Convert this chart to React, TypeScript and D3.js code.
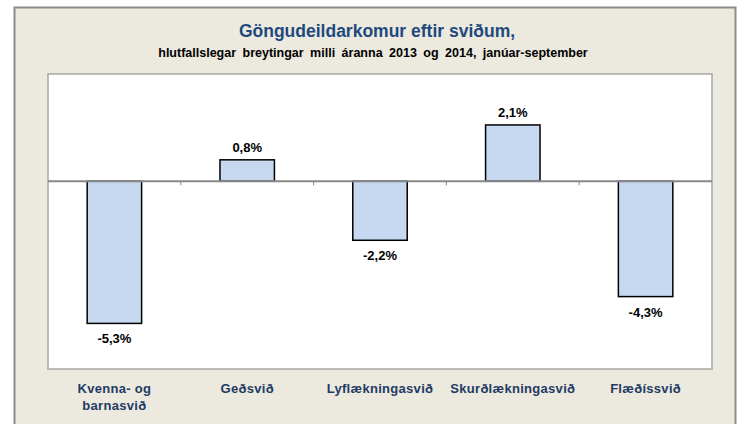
import { useEffect, useRef } from "react";
import * as d3 from "d3";

const categories = [["Kvenna- og", "barnasvið"], ["Geðsvið"], ["Lyflækningasvið"], ["Skurðlækningasvið"], ["Flæðíssvið"]];
const values = [-5.3, 0.8, -2.2, 2.1, -4.3];
const valueLabels = ["-5,3%", "0,8%", "-2,2%", "2,1%", "-4,3%"];

export default function App() {
  const svgRef = useRef<SVGSVGElement>(null);

  useEffect(() => {
    const svg = d3.select(svgRef.current);
    svg.selectAll("*").remove();

    const width = 741;
    const height = 424;
    const plot = { left: 48, right: 712, top: 74, bottom: 369 };
    const font = "'Liberation Sans', Arial, sans-serif";

    // outer frame
    svg.append("rect")
      .attr("x", 14.5).attr("y", 7.5)
      .attr("width", 721).attr("height", height)
      .attr("fill", "#ECE9DF")
      .attr("stroke", "#8C8C8C").attr("stroke-width", 2);

    // plot area
    svg.append("rect")
      .attr("x", plot.left).attr("y", plot.top)
      .attr("width", plot.right - plot.left).attr("height", plot.bottom - plot.top)
      .attr("fill", "#fff")
      .attr("stroke", "#A6A6A6").attr("stroke-width", 1.5);

    const x = d3.scaleBand<number>()
      .domain(d3.range(values.length))
      .range([plot.left, plot.right])
      .paddingInner(0.59)
      .paddingOuter(0.295);

    const xb = d3.scaleBand<number>()
      .domain(d3.range(values.length))
      .range([plot.left, plot.right]);

    const y = d3.scaleLinear().domain([-7, 4]).range([plot.bottom, plot.top]);

    // bars
    svg.append("g")
      .selectAll("rect")
      .data(values)
      .enter()
      .append("rect")
      .attr("x", (_, i) => x(i)!)
      .attr("width", x.bandwidth())
      .attr("y", d => y(Math.max(0, d)))
      .attr("height", d => Math.abs(y(d) - y(0)))
      .attr("fill", "#C6D9F1")
      .attr("stroke", "#000")
      .attr("stroke-width", 1.5);

    // zero axis
    svg.append("line")
      .attr("x1", plot.left).attr("x2", plot.right)
      .attr("y1", y(0)).attr("y2", y(0))
      .attr("stroke", "#878787").attr("stroke-width", 2);

    svg.append("g")
      .selectAll("line")
      .data(d3.range(1, values.length))
      .enter()
      .append("line")
      .attr("x1", i => xb(i)!).attr("x2", i => xb(i)!)
      .attr("y1", y(0)).attr("y2", y(0) + 4)
      .attr("stroke", "#878787").attr("stroke-width", 1);

    // value labels
    svg.append("g")
      .selectAll("text")
      .data(values)
      .enter()
      .append("text")
      .attr("x", (_, i) => x(i)! + x.bandwidth() / 2)
      .attr("y", d => (d >= 0 ? y(d) - 8 : y(d) + 20))
      .attr("text-anchor", "middle")
      .attr("font-family", font)
      .attr("font-weight", "bold")
      .attr("font-size", 13)
      .attr("fill", "#000")
      .text((_, i) => valueLabels[i]);

    // category labels
    const cat = svg.append("g")
      .selectAll("text")
      .data(categories)
      .enter()
      .append("text")
      .attr("x", (_, i) => xb(i)! + xb.bandwidth() / 2)
      .attr("y", 393)
      .attr("text-anchor", "middle")
      .attr("font-family", font)
      .attr("font-weight", "bold")
      .attr("font-size", 13)
      .attr("letter-spacing", 0.3)
      .attr("fill", "#1F3B64");
    cat.selectAll("tspan")
      .data(d => d)
      .enter()
      .append("tspan")
      .attr("x", function () {
        return (this as SVGTSpanElement).parentElement!.getAttribute("x");
      })
      .attr("dy", (_, j) => (j === 0 ? 0 : 17))
      .text(d => d);

    // titles
    svg.append("text")
      .attr("x", 377).attr("y", 37)
      .attr("text-anchor", "middle")
      .attr("font-family", font)
      .attr("font-weight", "bold")
      .attr("font-size", 17.5)
      .attr("fill", "#1F497D")
      .text("Göngudeildarkomur eftir sviðum,");

    svg.append("text")
      .attr("x", 373).attr("y", 57)
      .attr("text-anchor", "middle")
      .attr("font-family", font)
      .attr("font-weight", "bold")
      .attr("font-size", 12.5)
      .attr("word-spacing", 3)
      .attr("fill", "#000")
      .text("hlutfallslegar breytingar milli áranna 2013 og 2014, janúar-september");

    svg.attr("width", width).attr("height", height);
  }, []);

  return (
    <svg
      ref={svgRef}
      width={741}
      height={424}
      style={{ position: "absolute", left: 0, top: 0, background: "#fff" }}
    />
  );
}
